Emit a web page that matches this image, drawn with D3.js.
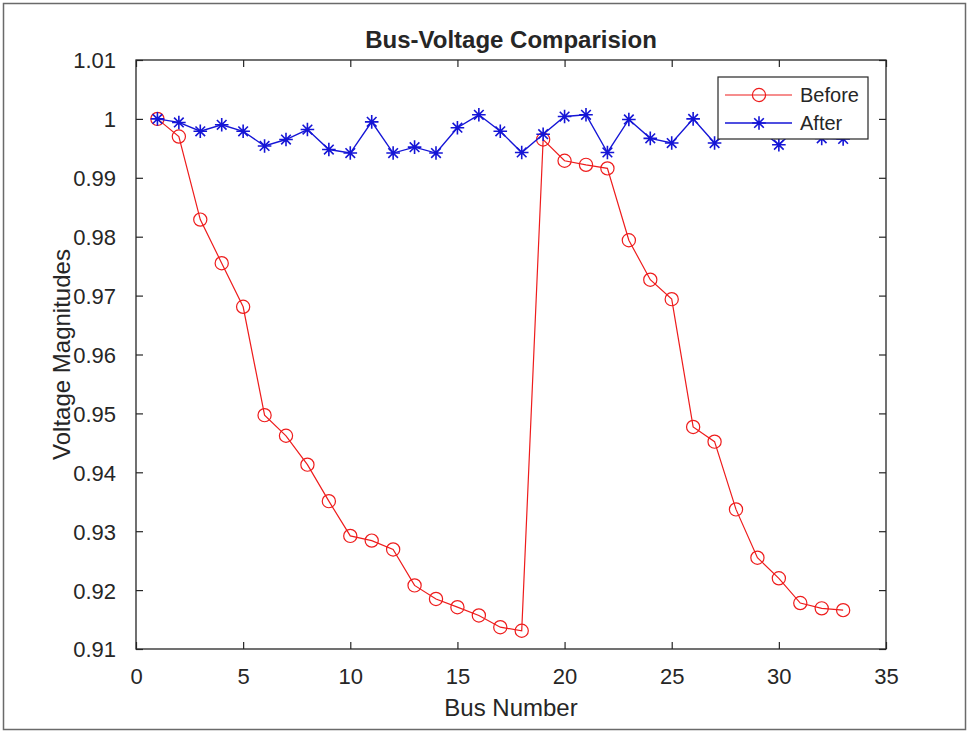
<!DOCTYPE html>
<html>
<head>
<meta charset="utf-8">
<script src="https://cdn.jsdelivr.net/npm/d3@7"></script>
<style>
  html, body { margin: 0; padding: 0; background: #fff; }
  svg { display: block; }
  text { font-family: "Liberation Sans", Arial, sans-serif; fill: #262626; }
</style>
</head>
<body>
<div id="chart"></div>
<script>
// Bus numbers 1..33 of the distribution feeder
const buses = [1,2,3,4,5,6,7,8,9,10,11,12,13,14,15,16,17,18,19,20,21,22,23,24,25,26,27,28,29,30,31,32,33];

// Voltage magnitudes (p.u.) before compensation
const before = [1.0000,0.9970,0.9829,0.9755,0.9681,0.9497,0.9462,0.9413,0.9351,0.9292,0.9284,0.9269,0.9208,0.9185,0.9171,0.9157,0.9137,0.9131,
                0.9965,0.9929,0.9922,0.9916,0.9794,0.9727,0.9694,0.9477,0.9452,0.9337,0.9255,0.9220,0.9178,0.9169,0.9166];

// Voltage magnitudes (p.u.) after compensation
const after = [1.0000,0.9994,0.9979,0.9990,0.9979,0.9954,0.9965,0.9982,0.9948,0.9942,0.9995,0.9942,0.9952,0.9942,0.9985,1.0007,0.9979,0.9943,
               0.9974,1.0004,1.0007,0.9943,0.9999,0.9967,0.9959,1.0000,0.9959,0.9990,0.9985,0.9956,0.9990,0.9967,0.9966];

const xTicks = [0,5,10,15,20,25,30,35];
const yTicks = [0.91,0.92,0.93,0.94,0.95,0.96,0.97,0.98,0.99,1.00,1.01];
const yTickLabels = ["0.91","0.92","0.93","0.94","0.95","0.96","0.97","0.98","0.99","1","1.01"];

const seriesNames = ["Before","After"];

const W = 969, H = 731;
const box = { left: 136, right: 886, top: 60, bottom: 649 };
const axisColor = "#262626";
const red = "#ee1c1c", blue = "#1515d6";

const svg = d3.select("#chart").append("svg").attr("width", W).attr("height", H);

// outer frame
svg.append("rect").attr("x", 3.5).attr("y", 3.5).attr("width", W - 7).attr("height", H - 5)
  .attr("fill", "none").attr("stroke", "#6a6a6a").attr("stroke-width", 1.5);

const x = d3.scaleLinear().domain([0, 35]).range([box.left, box.right]);
const y = d3.scaleLinear().domain([0.91, 1.01]).range([box.bottom, box.top]);

const tickLen = 7;

// bottom axis (ticks pointing inward)
const gx = svg.append("g").attr("transform", `translate(0,${box.bottom})`)
  .call(d3.axisBottom(x).tickValues(xTicks).tickSize(-tickLen).tickPadding(tickLen + 12).tickFormat(d3.format("d")));
// top axis mirror ticks
const gxt = svg.append("g").attr("transform", `translate(0,${box.top})`)
  .call(d3.axisTop(x).tickValues(xTicks).tickSize(-tickLen).tickFormat(""));
// left axis
const gy = svg.append("g").attr("transform", `translate(${box.left},0)`)
  .call(d3.axisLeft(y).tickValues(yTicks).tickSize(-tickLen).tickPadding(tickLen + 13)
    .tickFormat((d, i) => yTickLabels[i]));
// right axis mirror ticks
const gyr = svg.append("g").attr("transform", `translate(${box.right},0)`)
  .call(d3.axisRight(y).tickValues(yTicks).tickSize(-tickLen).tickFormat(""));

[gx, gxt, gy, gyr].forEach(g => {
  g.select(".domain").remove();
  g.selectAll(".tick line").attr("stroke", axisColor).attr("stroke-width", 1.2);
  g.selectAll(".tick text").attr("fill", axisColor).style("font-size", "22px")
    .style("font-family", "'Liberation Sans', Arial, sans-serif");
});
gy.selectAll(".tick text").attr("dy", "0.36em");

// axes box
svg.append("rect").attr("x", box.left).attr("y", box.top)
  .attr("width", box.right - box.left).attr("height", box.bottom - box.top)
  .attr("fill", "none").attr("stroke", axisColor).attr("stroke-width", 1.3);

// title and axis labels
svg.append("text").attr("x", (box.left + box.right) / 2).attr("y", 48)
  .attr("text-anchor", "middle").style("font-size", "24px").style("font-weight", "bold")
  .attr("fill", "#000").text("Bus-Voltage Comparision");
svg.append("text").attr("x", (box.left + box.right) / 2).attr("y", 716)
  .attr("text-anchor", "middle").style("font-size", "24px").text("Bus Number");
svg.append("text").attr("transform", `translate(70,${(box.top + box.bottom) / 2}) rotate(-90)`)
  .attr("text-anchor", "middle").style("font-size", "24px").text("Voltage Magnitudes");

const line = d3.line().x((d, i) => x(buses[i])).y(d => y(d));

// star marker path (plus overlaid with x)
const r = 6.8, k = r * Math.SQRT1_2 * 1.0;
const starPath = `M${-r},0H${r}M0,${-r}V${r}M${-k},${-k}L${k},${k}M${-k},${k}L${k},${-k}`;

// Before series: red line with circles
svg.append("path").datum(before).attr("d", line)
  .attr("fill", "none").attr("stroke", red).attr("stroke-width", 1.2);
svg.append("g").selectAll("circle").data(before).join("circle")
  .attr("cx", (d, i) => x(buses[i])).attr("cy", d => y(d)).attr("r", 6.6)
  .attr("fill", "none").attr("stroke", red).attr("stroke-width", 1.2);

// After series: blue line with stars
svg.append("path").datum(after).attr("d", line)
  .attr("fill", "none").attr("stroke", blue).attr("stroke-width", 1.4);
svg.append("g").selectAll("path").data(after).join("path")
  .attr("transform", (d, i) => `translate(${x(buses[i])},${y(d)})`)
  .attr("d", starPath).attr("fill", "none").attr("stroke", blue).attr("stroke-width", 1.6);

// legend
const lg = svg.append("g");
lg.append("rect").attr("x", 718).attr("y", 77).attr("width", 150).attr("height", 62)
  .attr("fill", "#fff").attr("stroke", axisColor).attr("stroke-width", 1.2);
const legendRows = [
  { name: seriesNames[0], color: red, marker: "circle", cy: 95 },
  { name: seriesNames[1], color: blue, marker: "star", cy: 123 }
];
legendRows.forEach(row => {
  lg.append("line").attr("x1", 725).attr("x2", 792).attr("y1", row.cy).attr("y2", row.cy)
    .attr("stroke", row.color).attr("stroke-width", row.marker === "star" ? 1.4 : 1.2);
  if (row.marker === "circle") {
    lg.append("circle").attr("cx", 759).attr("cy", row.cy).attr("r", 6.6)
      .attr("fill", "none").attr("stroke", row.color).attr("stroke-width", 1.2);
  } else {
    lg.append("path").attr("transform", `translate(759,${row.cy})`).attr("d", starPath)
      .attr("fill", "none").attr("stroke", row.color).attr("stroke-width", 1.6);
  }
  lg.append("text").attr("x", 800).attr("y", row.cy).attr("dy", "0.36em")
    .style("font-size", "20px").attr("fill", "#000").text(row.name);
});
</script>
</body>
</html>
